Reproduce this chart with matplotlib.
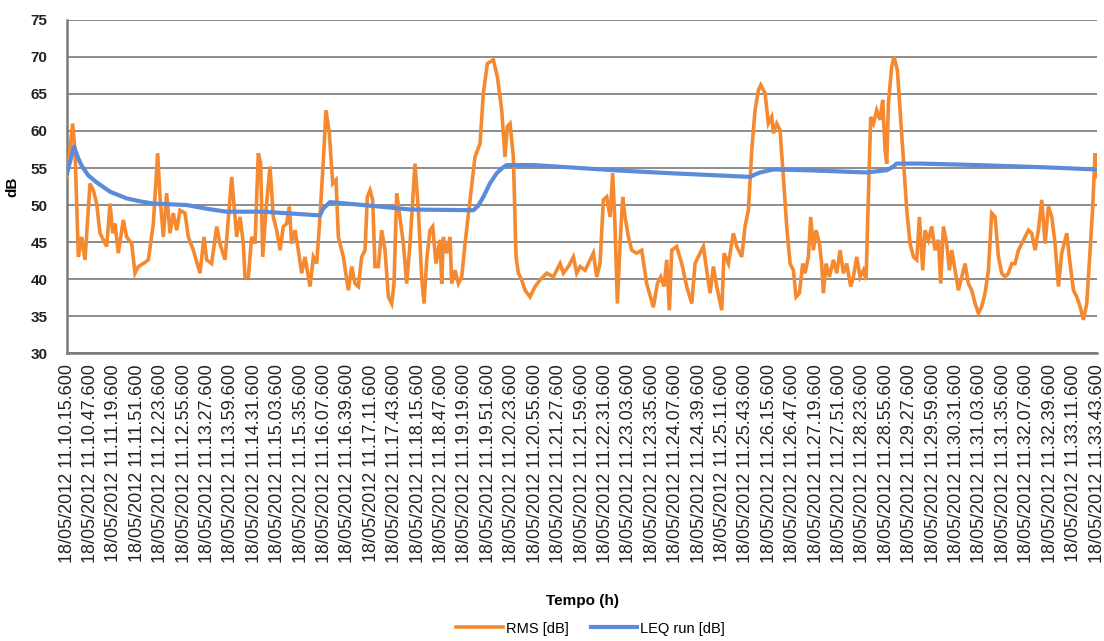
import matplotlib
matplotlib.use("Agg")
import matplotlib.pyplot as plt

plt.rcParams["font.family"] = ["Liberation Sans", "DejaVu Sans"]

ORANGE, BLUE, GRID, AXIS = "#F5892F", "#5B8BD9", "#8C8C8C", "#7A7A7A"

# time in seconds from 18/05/2012 11.10.15.600
rms_t = [0, 7.7, 10.9, 15.5, 20.0, 24.6, 31.4, 36.0, 40.5, 45.1, 49.6, 54.2, 58.8, 62.4,
         65.6, 70.1, 77.0, 81.5, 88.4, 92.9, 97.5, 104.3, 111.2, 118.0, 123.9, 127.1,
         131.7, 136.2, 140.8, 145.3, 149.9, 154.5, 161.3, 165.8, 172.7, 181.8, 187.3,
         190.9, 197.7, 204.6, 209.1, 216.0, 225.1, 229.6,
         231.9, 236.5, 241.0, 243.3, 247.9, 252.4, 257.0, 261.5, 264.7, 267.5, 272.0,
         277.5, 282.0, 286.6, 291.2, 295.7, 300.3, 303.9, 307.1, 311.7, 316.2, 320.8,
         325.3, 332.2, 336.7, 341.3, 345.8, 350.4, 354.0, 358.6, 363.2, 367.7, 370.9,
         377.7, 384.6, 389.1, 393.7, 398.2, 402.8, 407.4, 410.5, 414.2, 417.8, 421.0,
         425.6, 430.1, 434.7, 439.3, 443.8, 447.0, 450.7,
         459.8, 464.3, 468.9, 475.7, 480.3, 484.8, 488.0, 491.7, 496.2, 499.9, 504.4,
         509.9, 512.2, 514.4, 519.0, 523.6, 525.8, 530.4, 535.0, 539.5, 544.1, 550.9,
         557.7, 564.6, 569.1, 574.6, 582.8, 588.3, 594.2, 598.7, 601.9, 605.6, 610.1,
         613.8, 617.0, 621.5, 626.1, 632.9, 639.8, 646.6, 655.7, 664.8, 674.0, 678.5,
         685.3, 692.2, 696.7,
         701.3, 708.1, 712.7, 719.5, 724.1, 728.6, 733.2, 737.7, 742.3, 745.9, 749.1,
         752.3, 756.0, 759.6, 762.8, 767.4, 771.9, 778.7, 785.6, 792.4, 801.5, 807.0,
         811.6, 816.1, 819.8, 823.4, 826.6, 833.4, 840.3, 847.1, 854.0, 858.5, 865.3,
         869.9, 874.4, 879.0, 883.6, 888.1, 895.0, 898.1, 904.1, 910.9, 915.5, 922.3,
         926.8, 931.4, 936.0, 940.5, 945.1, 948.3, 954.2, 958.7, 963.3, 965.6, 970.1,
         974.7, 979.2, 983.8, 988.4, 992.9, 996.6, 1001.1, 1005.7, 1008.9, 1013.4,
         1016.6, 1020.3, 1023.9, 1028.5, 1031.6, 1033.9, 1037.6, 1042.1, 1047.6,
         1052.2, 1056.7, 1061.3, 1065.8, 1071.3, 1074.9, 1079.5, 1084.1, 1088.6,
         1092.3, 1095.4, 1098.6, 1102.3, 1106.8, 1111.4, 1115.0, 1118.2, 1120.5,
         1122.8, 1127.3, 1130.5, 1135.1, 1138.7, 1143.3, 1147.9, 1152.4, 1157.0, 1161.5,
         1165.2, 1169.7, 1172.9, 1177.5, 1182.0, 1186.6, 1191.1, 1194.3, 1198.0,
         1202.5, 1206.2, 1209.4, 1213.9, 1218.5, 1223.0, 1227.6, 1232.1, 1236.7,
         1241.3, 1245.8, 1250.4, 1254.9, 1259.5, 1264.0, 1268.6, 1273.2, 1277.7,
         1282.3, 1286.8, 1291.4, 1295.9, 1300.5, 1305.1, 1309.6, 1314.2, 1318.7,
         1323.3, 1327.8, 1332.4, 1337.0, 1341.5, 1346.1, 1350.6, 1355.2, 1359.7,
         1366.6, 1371.1, 1375.7, 1380.3, 1384.8, 1389.4, 1393.9, 1398.5, 1402.1,
         1405.3, 1408.0]
rms_db = [53.8, 61.0, 57.4, 43.0, 45.7, 42.6, 52.9, 52.0, 50.2, 46.2, 45.3, 44.4, 50.2, 46.2,
          47.5, 43.5, 48.0, 45.7, 44.8, 40.8, 41.7, 42.1, 42.6, 47.5, 57.0, 51.1,
          45.7, 51.6, 46.2, 48.9, 46.6, 49.3, 48.9, 45.7, 43.9, 40.8, 45.7,
          42.6, 42.1, 47.1, 44.8, 42.6, 53.8, 48.4,
          45.7, 48.4, 44.8, 40.3, 40.3, 45.7, 44.8, 57.0, 55.6, 43.0, 49.3,
          55.2, 48.4, 46.6, 43.9, 47.1, 47.5, 49.8, 44.8, 46.6, 43.9, 40.8,
          43.0, 39.0, 43.0, 42.1, 48.4, 56.1, 62.8, 59.7, 52.9, 53.4, 45.7,
          43.0, 38.5, 41.7, 39.4, 39.0, 43.0, 43.9, 51.1, 52.0, 50.7, 41.7,
          41.7, 46.6, 43.9, 37.6, 36.7, 39.4, 51.6,
          44.8, 39.4, 44.8, 55.6, 49.3, 40.3, 36.7, 42.6, 46.6, 47.1, 42.1,
          45.3, 39.4, 45.7, 43.5, 45.7, 39.4, 41.2, 39.4, 40.3, 44.8, 50.7,
          56.5, 58.3, 65.1, 69.1, 69.6, 67.3, 62.8, 56.5, 60.6, 61.0, 56.5,
          43.0, 40.8, 39.9, 38.5, 37.6, 39.0, 39.9, 40.8, 40.3, 42.1, 40.8,
          41.7, 43.0, 40.8,
          41.7, 41.2, 42.1, 43.5, 40.3, 42.1, 50.7, 51.1, 48.4, 54.3, 47.1,
          36.7, 44.8, 51.1, 48.4, 45.7, 43.9, 43.5, 43.9, 39.4, 36.2, 39.4,
          40.3, 39.0, 42.6, 35.8, 43.9, 44.4, 42.1, 39.0, 36.7, 42.1, 43.5,
          44.4, 41.2, 38.1, 41.7, 39.0, 35.8, 43.5, 42.1, 46.2, 44.4, 43.0,
          47.1, 49.3, 57.4, 62.8, 65.5, 66.2, 65.1, 61.0, 61.9, 59.7, 61.0,
          60.1, 53.8, 47.1, 42.1, 41.2, 37.6, 38.1, 42.1, 40.8, 43.0,
          48.4, 43.9, 46.6, 44.8, 42.1, 38.1, 42.1, 40.3, 42.6,
          40.8, 43.9, 40.8, 42.1, 39.0, 40.3, 43.0, 40.3, 41.2,
          39.9, 51.1, 61.9, 61.0, 62.8, 61.5, 64.2, 57.4, 55.6,
          63.7, 68.7, 70.0, 68.2, 62.8, 56.1, 49.3, 44.8, 43.0, 42.6,
          48.4, 41.2, 46.6, 45.3, 47.1, 43.9, 45.3, 39.4, 47.1,
          44.8, 41.2, 43.9, 41.2, 38.5, 40.3, 42.1, 39.4, 38.5,
          36.7, 35.4, 36.3, 38.1, 41.2, 48.9, 48.4, 43.0, 40.8,
          40.3, 40.8, 42.1, 42.1, 43.9, 44.8, 45.7, 46.6, 46.2,
          43.9, 46.6, 50.7, 44.8, 49.8, 48.4, 44.8, 39.0, 43.5,
          46.2, 42.1, 38.5, 37.6, 36.3, 34.5, 36.7, 43.9, 49.8,
          57.0, 53.8]

leq_t = [0, 9.5, 15, 20, 29.1, 40, 58.8, 81.5, 100, 118.0, 163.6, 190.9, 218.3, 268.4,
         345.8, 350, 359.5, 405.1, 468.9, 555.5, 562, 569.1, 578, 587.4, 595, 601.0,
         637.5, 701.3, 746.8, 824.3, 933.7, 940, 947.3, 965.6, 1011.1, 1093.2, 1120.5,
         1128, 1134.2, 1166.1, 1243.5, 1334.7, 1408.0]
leq_db = [54.3, 57.9, 56.4, 55.3, 54.0, 53.1, 51.8, 50.9, 50.5, 50.2, 50.0, 49.5, 49.1, 49.1,
          48.6, 49.5, 50.4, 50.0, 49.4, 49.3, 49.9, 51.1, 52.9, 54.3, 55.0, 55.4,
          55.4, 55.0, 54.7, 54.3, 53.8, 54.1, 54.4, 54.8, 54.7, 54.4, 54.7,
          55.1, 55.6, 55.6, 55.4, 55.1, 54.8]

tick_times = ["11.10.15", "11.10.47", "11.11.19", "11.11.51", "11.12.23", "11.12.55",
              "11.13.27", "11.13.59", "11.14.31", "11.15.03", "11.15.35", "11.16.07",
              "11.16.39", "11.17.11", "11.17.43", "11.18.15", "11.18.47", "11.19.19",
              "11.19.51", "11.20.23", "11.20.55", "11.21.27", "11.21.59", "11.22.31",
              "11.23.03", "11.23.35", "11.24.07", "11.24.39", "11.25.11", "11.25.43",
              "11.26.15", "11.26.47", "11.27.19", "11.27.51", "11.28.23", "11.28.55",
              "11.29.27", "11.29.59", "11.30.31", "11.31.03", "11.31.35", "11.32.07",
              "11.32.39", "11.33.11", "11.33.43"]
tick_step = 32

fig = plt.figure(figsize=(11.04, 6.41), dpi=100)
ax = fig.add_axes([0.0607, 0.449, 0.933, 0.520])

ax.plot(rms_t, rms_db, color=ORANGE, lw=2.6, label="RMS [dB]", zorder=3,
        solid_joinstyle="miter")
ax.plot(leq_t, leq_db, color=BLUE, lw=3.0, label="LEQ run [dB]", zorder=4)

ax.set_xlim(0, tick_step * (len(tick_times) - 1))
ax.set_ylim(30, 75)
ax.set_yticks(range(30, 76, 5))
ax.set_xticks([i * tick_step for i in range(len(tick_times))])
ax.set_xticklabels([f"18/05/2012 {t}.600" for t in tick_times], rotation=90,
                   fontsize=13, color="#222222")
ax.tick_params(axis="y", length=0, labelsize=11, pad=14, labelcolor="#222222")
ax.tick_params(axis="x", length=0, pad=8)
for lbl in ax.get_yticklabels():
    lbl.set_fontweight("bold")

ax.grid(axis="y", color=GRID, lw=1.4)
ax.set_axisbelow(True)
for side in ("top", "right"):
    ax.spines[side].set_visible(False)
for side in ("left", "bottom"):
    ax.spines[side].set_color(AXIS)
    ax.spines[side].set_linewidth(1.8)

ax.set_ylabel("dB", fontsize=11, fontweight="bold", labelpad=8)
ax.set_xlabel("Tempo (h)", fontsize=11, fontweight="bold", labelpad=22)

fig.legend(loc="lower center", bbox_to_anchor=(0.535, -0.012), ncol=2, frameon=False,
           fontsize=10.5, handlelength=3.2, columnspacing=1.5, handletextpad=0.2)

fig.savefig("out.png", dpi=100, facecolor="white")
